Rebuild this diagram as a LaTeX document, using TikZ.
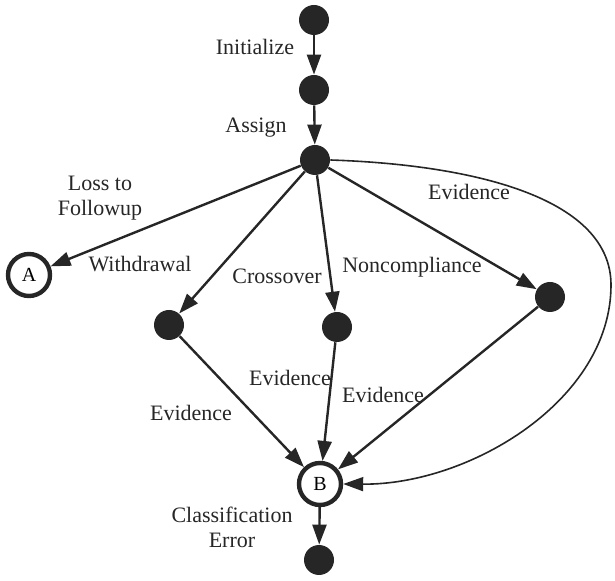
\documentclass[tikz,border=0pt]{standalone}
\usepackage{fontspec}
\setmainfont{Liberation Serif}
\usetikzlibrary{arrows.meta, positioning}

\begin{document}
\begin{tikzpicture}[x=0.5pt, y=-0.5pt, dot/.style={circle, fill=black!85, inner sep=0pt, minimum size=15pt}, ring/.style={circle, draw=black!85, line width=2.2pt, inner sep=0pt, minimum size=21pt, font=\fontsize{10}{12}\selectfont}, arrow/.style={-{Triangle[length=10pt, width=7pt]}, line width=1.2pt, draw=black!85}, lbl/.style={align=center, font=\fontsize{11}{12.5}\selectfont, text=black!85}]
\useasboundingbox (0,0) rectangle (615,581);

\node[dot] (start) at (314,20) {};
\node[dot] (init) at (314,90) {};
\node[dot] (assign) at (315,160) {};
\node[ring] (A) at (29,275) {A};
\node[dot] (withdraw) at (169,325) {};
\node[dot] (cross) at (337,327) {};
\node[dot] (noncomp) at (550,297) {};
\node[ring] (B) at (320,484) {B};
\node[dot] (error) at (319,560) {};
\coordinate (turn) at (611,285);

\node[lbl] (lInit) at (255,47) {Initialize};
\node[lbl] (lAssign) at (256,128) {Assign};
\node[lbl] (lLoss) at (100,198) {Loss to\\Followup};
\node[lbl] (lWithdraw) at (140,264) {Withdrawal};
\node[lbl] (lCross) at (277,276) {Crossover};
\node[lbl] (lNoncomp) at (412,267) {Noncompliance};
\node[lbl] (lEvTop) at (469,192) {Evidence};
\node[lbl] (lEvLeft) at (191,413) {Evidence};
\node[lbl] (lEvMid) at (290,378) {Evidence};
\node[lbl] (lEvRight) at (383,395) {Evidence};
\node[lbl] (lError) at (232,527) {Classification\\Error};

\draw[arrow] (start)--(init);\draw[arrow] (init)--(assign);
\draw[arrow] (assign)--(A);\draw[arrow] (assign)--(withdraw);\draw[arrow] (assign)--(cross);\draw[arrow] (assign)--(noncomp);
\draw[arrow] (withdraw)--(B);\draw[arrow] (cross)--(B);\draw[arrow] (noncomp)--(B);
\draw[arrow] (B)--(error);
\draw[arrow, line width=0.8pt] (assign.east) .. controls (480,165) and (611,200) .. (turn) .. controls (611,400) and (470,485) .. (B.east);

\end{tikzpicture}
\end{document}
